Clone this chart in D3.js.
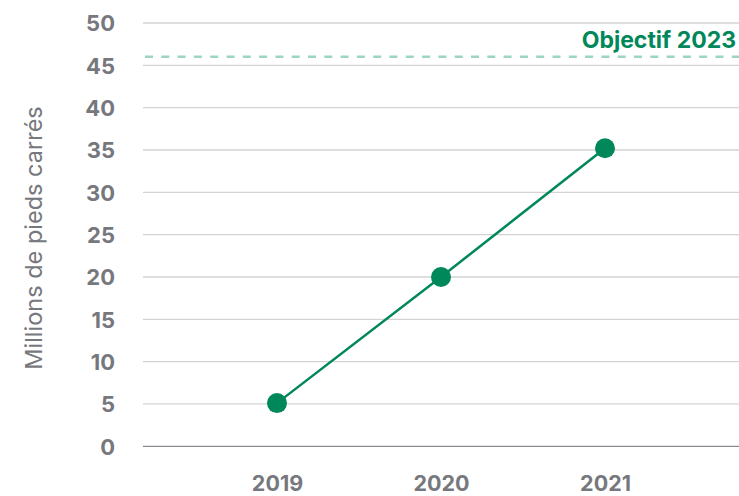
<html>
<head>
<script src="https://d3js.org/d3.v7.min.js"></script>
<style>
  body { margin: 0; background: #fff; }
  text { font-family: Inter, "Open Sans", sans-serif; }
</style>
</head>
<body>
<div id="chart"></div>
<script>
const years = ["2019", "2020", "2021"];
const values = [5.1, 20.0, 35.2];
const yTicks = [0, 5, 10, 15, 20, 25, 30, 35, 40, 45, 50];
const target = 46;
const targetLabel = "Objectif 2023";
const yTitle = "Millions de pieds carrés";

const width = 739, height = 496;
const margin = {top: 23, right: 0, bottom: 50, left: 143};
const green = "#00875a";
const gray = "#77787d";

let svg = d3.select("#chart").append("svg")
  .attr("width", width)
  .attr("height", height);

let xScale = d3.scalePoint()
  .domain(years)
  .range([margin.left, width - margin.right])
  .padding(0.817);

let yScale = d3.scaleLinear()
  .domain([0, 50])
  .range([446.3, margin.top]);

// gridlines
svg.append("g")
  .selectAll("line")
  .data(yTicks)
  .join("line")
  .attr("x1", margin.left)
  .attr("x2", width)
  .attr("y1", d => yScale(d))
  .attr("y2", d => yScale(d))
  .attr("stroke", d => d === 0 ? "#8c8d92" : "#d3d3d3")
  .attr("stroke-width", 1.3);

// y tick labels
let leftAxis = d3.axisLeft(yScale).tickValues(yTicks).tickSize(0).tickPadding(0);
let yAxis = svg.append("g")
  .attr("transform", "translate(115,0)")
  .call(leftAxis);
yAxis.select(".domain").remove();
yAxis.selectAll("text")
  .attr("fill", gray)
  .attr("font-size", 22)
  .attr("font-weight", 700)
  .attr("dy", "0.36em");

// x tick labels
let bottomAxis = d3.axisBottom(xScale).tickSize(0).tickPadding(0);
let xAxis = svg.append("g")
  .attr("transform", "translate(0,483)")
  .call(bottomAxis);
xAxis.select(".domain").remove();
xAxis.selectAll("text")
  .attr("fill", gray)
  .attr("font-size", 21.5)
  .attr("font-weight", 700)
  .attr("dy", "0.36em");

// y title
svg.append("text")
  .attr("transform", "translate(34,238) rotate(-90)")
  .attr("text-anchor", "middle")
  .attr("dy", "0.36em")
  .attr("fill", gray)
  .attr("font-size", 23.5)
  .text(yTitle);

// target line
svg.append("line")
  .attr("x1", 145)
  .attr("x2", width)
  .attr("y1", yScale(target))
  .attr("y2", yScale(target))
  .attr("stroke", "#9dd6bf")
  .attr("stroke-width", 2.5)
  .attr("stroke-dasharray", "8,8.3");

svg.append("text")
  .attr("x", 736)
  .attr("y", 40)
  .attr("dy", "0.36em")
  .attr("text-anchor", "end")
  .attr("fill", green)
  .attr("font-size", 23)
  .attr("font-weight", 700)
  .text(targetLabel);

// series
const data = years.map((y, i) => ({year: y, value: values[i]}));
let lineGen = d3.line()
  .x(d => xScale(d.year))
  .y(d => yScale(d.value));

svg.append("path")
  .datum(data)
  .attr("fill", "none")
  .attr("stroke", green)
  .attr("stroke-width", 2.5)
  .attr("d", lineGen);

svg.append("g")
  .selectAll("circle")
  .data(data)
  .join("circle")
  .attr("cx", d => xScale(d.year))
  .attr("cy", d => yScale(d.value))
  .attr("r", 10)
  .attr("fill", green);
</script>
</body>
</html>
